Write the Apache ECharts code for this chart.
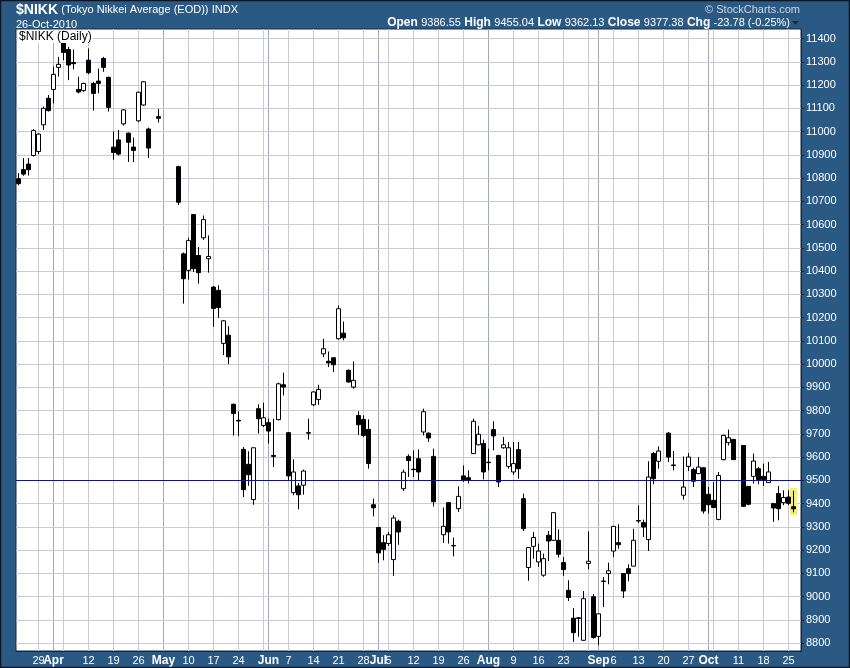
<!DOCTYPE html>
<html><head><meta charset="utf-8">
<script src="https://cdn.jsdelivr.net/npm/echarts@6/dist/echarts.min.js"></script>
<style>html,body{margin:0;padding:0;background:#2a5a84;}#c{width:850px;height:668px;}</style>
</head><body><div id="c"></div>
<script>
// ---- categories: every weekday (holidays kept as empty slots) ----
const startDate = '2010-03-23';
const endDate = '2010-10-27';

// ---- OHLC, one row per week (Mon..Fri), null = exchange holiday ----
const open = [
  10797, 10836, 10860, 10897,
  10914, 11029, 11143, 11181, 11276,
  11383, 11353, 11297, 11181, 11176,
  11307, 11207, 11217, 11314, 11233,
  10933, 10964, 11033, 10993, 10933,
  11046, 11114, 11011, null, 11064,
  null, null, null, 10849, 10474,
  10403, 10643, 10467, 10543, 10453,
  10331, 10317, 10089, 10124, 9827,
  9758, 9633, 9569, 9417, 9808,
  9736, 9748, 9607, 9761, 9911,
  9705, 9447, 9476, 9479, 9705,
  9825, 9848, 10044, 10012, 10027,
  10109, 10133, 9973, 9901, 9779,
  9762, 9719, 9395, 9297, 9232,
  9228, 9159, 9324, 9464, 9603,
  9548, 9593, 9708, 9703, 9603,
  null, 9266, 9404, 9220, 9378,
  9519, 9511, 9615, 9653, 9658,
  9578, 9718, 9607, 9640, 9560,
  9536, 9632, 9421, 9125, 9216,
  9149, 9092, 9264, 9242, 9242,
  9146, 9027, 8907, 8906, 8812,
  9142, 8999, 8829, 9065, 9099,
  9196, 9232, 9099, 9120, 9131,
  9327, 9318, 9245, 9615, 9582,
  null, 9703, 9566, null, 9436,
  9560, 9546, 9529, 9554, 9440,
  9414, 9332, 9589, 9662, 9676,
  null, 9650, 9474, 9517, 9550,
  9517, 9490, 9400, 9443, 9404,
  9428, 9386.55, null
];
const high = [
  10821, 10886, 10886, 11010,
  10993, 11107, 11157, 11279, 11321,
  11390, 11364, 11353, 11236, 11210,
  11357, 11214, 11271, 11321, 11236,
  11000, 11007, 11097, 10996, 10974,
  11171, 11217, 11017, null, 11097,
  null, null, null, 10853, 10480,
  10543, 10643, 10503, 10639, 10553,
  10336, 10339, 10189, 10163, 9830,
  9797, 9643, 9625, 9640, 9827,
  9834, 9765, 9765, 9920, 9963,
  9708, 9590, 9489, 9546, 9765,
  9883, 9911, 10109, 10054, 10030,
  10252, 10183, 9977, 10011, 9797,
  9779, 9762, 9421, 9297, 9264,
  9278, 9350, 9331, 9546, 9612,
  9629, 9633, 9808, 9706, 9636,
  null, 9383, 9406, 9254, 9474,
  9564, 9543, 9765, 9734, 9675,
  9636, 9754, 9610, 9686, 9665,
  9665, 9665, 9443, 9211, 9278,
  9228, 9185, 9282, 9361, 9289,
  9170, 9070, 8950, 8912, 9024,
  9281, 9011, 8926, 9084, 9146,
  9302, 9311, 9101, 9139, 9292,
  9393, 9331, 9582, 9622, 9646,
  null, 9708, 9626, null, 9603,
  9617, 9554, 9600, 9557, 9471,
  9493, 9536, 9696, 9718, 9676,
  null, 9650, 9474, 9615, 9557,
  9572, 9579, 9403, 9476, 9457,
  9457, 9455.04, null
];
const low = [
  10769, 10810, 10811, 10893,
  10903, 11007, 11086, 11121, 11236,
  11307, 11221, 11267, 11164, 11171,
  11247, 11090, 11164, 11257, 11086,
  10879, 10896, 11026, 10869, 10869,
  11040, 11110, 10886, null, 11039,
  null, null, null, 10684, 10260,
  10363, 10396, 10346, 10534, 10393,
  10160, 10199, 10039, 10000, 9693,
  9690, 9428, 9476, 9395, 9701,
  9729, 9658, 9557, 9758, 9865,
  9500, 9436, 9375, 9438, 9675,
  9819, 9825, 10030, 9987, 9966,
  10105, 10102, 9920, 9894, 9696,
  9686, 9550, 9345, 9145, 9156,
  9218, 9089, 9223, 9454, 9514,
  9514, 9500, 9693, 9665, 9388,
  null, 9231, 9228, 9173, 9364,
  9493, 9486, 9613, 9650, 9504,
  9543, 9629, 9471, 9636, 9550,
  9524, 9507, 9282, 9068, 9163,
  9128, 9085, 9153, 9239, 9168,
  9089, 8981, 8805, 8827, 8810,
  9117, 8819, 8791, 8955, 9053,
  9170, 9206, 8994, 9066, 9131,
  9317, 9256, 9196, 9483, 9550,
  null, 9579, 9543, null, 9417,
  9540, 9471, 9526, 9357, 9357,
  9380, 9328, 9586, 9650, 9589,
  null, 9385, 9393, 9486, 9483,
  9476, 9490, 9321, 9328, 9393,
  9393, 9362.13, null
];
const close = [
  10776, 10817, 10836, 11004,
  10989, 11100, 11090, 11246, 11289,
  11340, 11286, 11292, 11170, 11207,
  11253, 11164, 11207, 11276, 11104,
  10910, 10903, 11093, 10954, 10919,
  11169, 11214, 10929, null, 11057,
  null, null, null, 10696, 10367,
  10531, 10410, 10393, 10621, 10463,
  10239, 10243, 10186, 10031, 9787,
  9755, 9460, 9524, 9640, 9765,
  9769, 9712, 9603, 9915, 9901,
  9519, 9536, 9438, 9540, 9703,
  9880, 9891, 10066, 10005, 9997,
  10238, 10113, 9923, 9930, 9739,
  9693, 9572, 9382, 9188, 9203,
  9266, 9338, 9278, 9535, 9585,
  9546, 9536, 9795, 9682, 9408,
  null, 9302, 9278, 9218, 9431,
  9503, 9500, 9754, 9698, 9536,
  9576, 9691, 9493, 9653, 9640,
  9572, 9550, 9292, 9211, 9254,
  9196, 9163, 9239, 9361, 9182,
  9116, 8996, 8845, 8909, 8991,
  9152, 8824, 8926, 9067, 9111,
  9302, 9223, 9024, 9099, 9242,
  9325, 9299, 9514, 9507, 9626,
  null, 9600, 9564, null, 9471,
  9600, 9496, 9557, 9368, 9395,
  9383, 9521, 9693, 9683, 9589,
  null, 9388, 9397, 9583, 9503,
  9503, 9536, 9381, 9378, 9426,
  9401, 9377.38, null
];

// ---- axis labels ----
const yTicks = [8800, 8900, 9000, 9100, 9200, 9300, 9400, 9500, 9600, 9700, 9800, 9900,
  10000, 10100, 10200, 10300, 10400, 10500, 10600, 10700, 10800, 10900, 11000, 11100, 11200, 11300, 11400];
const yMin = 8766, yMax = 11441;
const weekLabels = {
  '2010-03-29': '29', '2010-04-12': '12', '2010-04-19': '19', '2010-04-26': '26',
  '2010-05-10': '10', '2010-05-17': '17', '2010-05-24': '24', '2010-06-07': '7',
  '2010-06-14': '14', '2010-06-21': '21', '2010-06-28': '28', '2010-07-05': '5',
  '2010-07-12': '12', '2010-07-19': '19', '2010-07-26': '26', '2010-08-09': '9',
  '2010-08-16': '16', '2010-08-23': '23', '2010-09-06': '6', '2010-09-13': '13',
  '2010-09-20': '20', '2010-09-27': '27', '2010-10-11': '11', '2010-10-18': '18',
  '2010-10-25': '25'
};
const monthLabels = {
  '2010-04-01': 'Apr', '2010-05-03': 'May', '2010-06-01': 'Jun', '2010-07-01': 'Jul',
  '2010-08-02': 'Aug', '2010-09-01': 'Sep', '2010-10-01': 'Oct'
};
const refLine = 9500;

function weekdays(s, e) {
  const out = [];
  let t = Date.parse(s + 'T00:00:00Z');
  const end = Date.parse(e + 'T00:00:00Z');
  while (t <= end) {
    const d = new Date(t);
    const wd = d.getUTCDay();
    if (wd >= 1 && wd <= 5) out.push(d.toISOString().slice(0, 10));
    t += 86400000;
  }
  return out;
}
const dates = weekdays(startDate, endDate);

const candleData = dates.map((d, i) => open[i] == null ? ['-', '-', '-', '-'] : [open[i], close[i], low[i], high[i]]);
let lastIdx = 0;
dates.forEach((d, i) => { if (open[i] != null) lastIdx = i; });

const mondays = dates.filter(d => new Date(d + 'T00:00:00Z').getUTCDay() === 1);
const gridLines = [];
mondays.forEach(d => gridLines.push({ xAxis: d, lineStyle: { color: '#c9c9d8', width: 1, type: 'solid' } }));
Object.keys(monthLabels).forEach(d => gridLines.push({ xAxis: d, lineStyle: { color: '#a3a8bc', width: 1, type: 'solid' } }));
yTicks.forEach(v => gridLines.push({ yAxis: v, lineStyle: { color: '#c9c9d8', width: 1, type: 'solid' } }));

const FONT = '"Liberation Sans", Arial, sans-serif';
const chart = echarts.init(document.getElementById('c'), null, { renderer: 'canvas' });
chart.setOption({
  animation: false,
  backgroundColor: '#2a5a84',
  grid: { left: 16, right: 49, top: 29, bottom: 17, show: true, backgroundColor: '#ffffff', borderColor: '#1b2838', borderWidth: 1 },
  xAxis: {
    type: 'category', data: dates, boundaryGap: true,
    axisLine: { show: true, lineStyle: { color: '#10203a', type: 'dotted', width: 1 } },
    axisTick: { show: false },
    splitLine: { show: false },
    axisLabel: {
      margin: 4, color: '#ffffff', fontFamily: FONT, fontSize: 11,
      hideOverlap: false, interval: 0,
      formatter: v => monthLabels[v] ? '{m|' + monthLabels[v] + '}' : (weekLabels[v] || ''),
      rich: { m: { fontWeight: 'bold', fontSize: 12, color: '#ffffff', fontFamily: FONT } }
    }
  },
  yAxis: {
    type: 'value', position: 'right', min: yMin, max: yMax, scale: true,
    axisLine: { show: true, lineStyle: { color: '#10203a', type: 'dotted', width: 1 } },
    axisTick: { show: true, length: 3, customValues: yTicks, lineStyle: { color: '#10203a' } },
    splitLine: { show: false },
    axisLabel: { customValues: yTicks, margin: 5, color: '#ffffff', fontFamily: FONT, fontSize: 11, formatter: v => String(v) }
  },
  series: [
    {
      type: 'custom', z: 2, silent: true,
      data: [[lastIdx, high[lastIdx] + 12, low[lastIdx] - 11]],
      renderItem: (params, api) => {
        const x = api.value(0);
        const p1 = api.coord([x, api.value(1)]);
        const p2 = api.coord([x, api.value(2)]);
        const w = api.size([1, 0])[0] * 1.4;
        return { type: 'rect', shape: { x: p1[0] - w / 2, y: p1[1], width: w, height: p2[1] - p1[1] }, style: { fill: '#f6ef7c' } };
      },
      markLine: {
        silent: true, symbol: 'none', z: 10, label: { show: false },
        lineStyle: { color: '#101090', width: 1, type: 'solid' },
        data: [{ yAxis: refLine }]
      }
    },
    {
      type: 'candlestick', z: 3, silent: true,
      data: candleData,
      barWidth: 4,
      itemStyle: { color: '#ffffff', color0: '#000000', borderColor: '#000000', borderColor0: '#000000', borderWidth: 1 },
      markLine: { silent: true, symbol: 'none', z: 1, label: { show: false }, data: gridLines }
    }
  ],
  graphic: [
    { type: 'rect', z: 100, silent: true, shape: { x: 0.5, y: 0.5, width: 849, height: 667 }, style: { fill: null, stroke: '#0b1622', lineWidth: 1.5 } },
    { type: 'text', z: 100, left: 16, top: 3, style: {
        text: '{a|$NIKK} {b|(Tokyo Nikkei Average (EOD))} {c|INDX}',
        rich: {
          a: { fill: '#fff', font: 'bold 14px ' + FONT },
          b: { fill: '#fff', font: '11px ' + FONT },
          c: { fill: '#fff', font: '11px ' + FONT }
        } } },
    { type: 'text', z: 100, left: 16, top: 19, style: { text: '26-Oct-2010', fill: '#fff', font: '11px ' + FONT } },
    { type: 'text', z: 100, right: 50, top: 4, style: { text: '\u00A9 StockCharts.com', fill: '#cdd6e2', font: '11px ' + FONT } },
    { type: 'text', z: 100, right: 60, top: 17, style: {
        text: '{k|Open} {v|9386.55} {k|High} {v|9455.04} {k|Low} {v|9362.13} {k|Close} {v|9377.38} {k|Chg} {v|-23.78 (-0.25%)}',
        rich: { k: { fill: '#fff', font: 'bold 12px ' + FONT }, v: { fill: '#fff', font: '11px ' + FONT } } } },
    { type: 'polygon', z: 100, silent: true, shape: { points: [[792, 21], [799, 21], [795.5, 25]] }, style: { fill: '#1a2a40' } },
    { type: 'text', z: 100, left: 18, top: 31, style: { text: '$NIKK (Daily)', fill: '#000', font: '12px ' + FONT, backgroundColor: '#fff', padding: [0, 1] } }
  ]
});
</script></body></html>
